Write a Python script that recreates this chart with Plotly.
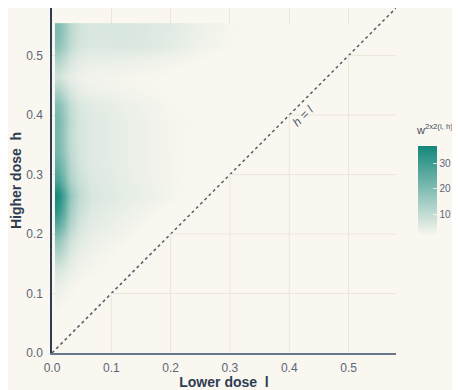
import plotly.graph_objects as go

# ---------------- data ----------------
lower_l = [0.0075, 0.0125, 0.02, 0.03, 0.045, 0.065, 0.09, 0.12, 0.16,
           0.20, 0.25, 0.30, 0.35, 0.40, 0.45, 0.50, 0.55]
higher_h = [0.013, 0.038, 0.063, 0.088, 0.113, 0.139, 0.164, 0.189, 0.214,
            0.239, 0.265, 0.290, 0.315, 0.340, 0.366, 0.391, 0.416, 0.441,
            0.466, 0.492, 0.517, 0.542]

w_rows = [
    [0.5, 0.4, 0.3, 0, 0, 0, 0, 0, 0, 0, 0, 0, 0, 0, 0, 0, 0],
    [1.0, 0.9, 0.7, 0.4, 0, 0, 0, 0, 0, 0, 0, 0, 0, 0, 0, 0, 0],
    [1.8, 1.7, 1.4, 1.0, 0.5, 0, 0, 0, 0, 0, 0, 0, 0, 0, 0, 0, 0],
    [2.8, 2.7, 2.3, 1.8, 1.2, 0.8, 0.3, 0, 0, 0, 0, 0, 0, 0, 0, 0, 0],
    [4.0, 3.8, 3.3, 2.5, 1.9, 1.5, 1.0, 0.3, 0, 0, 0, 0, 0, 0, 0, 0, 0],
    [7.0, 6.7, 5.6, 4.0, 2.9, 2.3, 1.8, 1.0, 0, 0, 0, 0, 0, 0, 0, 0, 0],
    [12, 11.4, 9.3, 6.0, 4.0, 3.0, 2.4, 1.5, 0.3, 0, 0, 0, 0, 0, 0, 0, 0],
    [18, 17, 13.5, 8.5, 5.5, 4.0, 3.2, 2.3, 1.0, 0, 0, 0, 0, 0, 0, 0, 0],
    [26, 24.5, 19.5, 12, 7.2, 5.0, 4.2, 3.2, 1.8, 0.5, 0, 0, 0, 0, 0, 0, 0],
    [33, 31, 25, 15, 9.0, 6.0, 5.0, 4.0, 2.7, 1.3, 0.3, 0, 0, 0, 0, 0, 0],
    [37, 35, 28, 17.5, 10.5, 7.0, 6.0, 5.0, 3.8, 2.5, 0.8, 0, 0, 0, 0, 0, 0],
    [29, 27.5, 22, 13.5, 9.0, 6.3, 5.6, 4.6, 3.4, 2.4, 1.2, 0, 0, 0, 0, 0, 0],
    [25, 23.5, 19, 12, 7.6, 5.8, 5.2, 4.3, 3.3, 2.4, 1.5, 0.4, 0, 0, 0, 0, 0],
    [22, 21, 16.8, 11, 7.2, 5.7, 5.2, 4.3, 3.3, 2.4, 1.6, 0.8, 0, 0, 0, 0, 0],
    [21.5, 20.5, 16.3, 10.5, 7.2, 5.7, 5.2, 4.3, 3.3, 2.4, 1.7, 0.9, 0, 0, 0, 0, 0],
    [22, 21, 16.8, 11, 7.2, 5.7, 5.2, 4.3, 3.3, 2.4, 1.8, 1.0, 0.3, 0, 0, 0, 0],
    [20, 19, 15.3, 10, 6.7, 5.3, 4.8, 3.9, 3.0, 2.1, 1.5, 0.8, 0.3, 0, 0, 0, 0],
    [14, 13.3, 10.5, 7.0, 4.6, 3.6, 3.3, 2.8, 2.2, 1.6, 1.1, 0.6, 0.2, 0, 0, 0, 0],
    [8.0, 7.6, 6.2, 4.5, 3.2, 2.7, 2.6, 2.4, 2.0, 1.5, 1.0, 0.5, 0.2, 0, 0, 0, 0],
    [13, 12.4, 10, 7.0, 5.0, 4.2, 4.1, 3.9, 3.4, 2.7, 1.7, 0.9, 0.4, 0, 0, 0, 0],
    [19, 18, 15, 10.5, 7.3, 6.3, 6.4, 6.6, 6.2, 5.0, 3.2, 2.0, 1.0, 0.3, 0, 0, 0],
    [21, 20, 16.5, 11.5, 7.8, 6.7, 6.8, 6.8, 6.3, 5.3, 3.5, 2.2, 1.1, 0.4, 0, 0, 0],
]

grid_ticks = [0.1, 0.2, 0.3, 0.4, 0.5]
axis_ticks = [0.0, 0.1, 0.2, 0.3, 0.4, 0.5]
cbar_ticks = [10, 20, 30]

# ---------------- style ----------------
BG = "#faf7f0"
GRID = "#ebe6dc"
NAVY = "#2e3d52"
TICK = "#5a6577"
TEAL = "#12877a"
AX_MAX = 0.58
FONT = "Liberation Sans"

# the page body has an 8px margin, so the figure is drawn 8px in from the corner
FIG_W, FIG_H = 452, 382
M_L, M_T = 44, 0
PLOT_W, PLOT_H = 344, 345
M_R = FIG_W - M_L - PLOT_W
M_B = FIG_H - M_T - PLOT_H

fig = go.Figure()

fig.add_trace(go.Heatmap(
    x=lower_l, y=higher_h, z=w_rows,
    zsmooth="best",
    zmin=1.6, zmax=37.2,
    colorscale=[[0, BG], [1, TEAL]],
    hoverinfo="skip",
    colorbar=dict(
        x=(418 - 52) / PLOT_W, xanchor="left", xpad=0,
        y=(345 - 182.5) / PLOT_H, yanchor="middle", ypad=0,
        len=90, lenmode="pixels",
        thickness=19, thicknessmode="pixels",
        outlinewidth=0,
        tickvals=cbar_ticks,
        ticks="inside", ticklen=4, tickcolor="rgba(255,255,255,0.75)",
        tickfont=dict(family=FONT, size=10, color=TICK),
        title=dict(text=""),
    ),
))

# mask the region below the diagonal (h < l)
fig.add_trace(go.Scatter(
    x=[0, AX_MAX, AX_MAX, 0], y=[0, 0, AX_MAX, 0],
    fill="toself", fillcolor=BG, mode="none",
    hoverinfo="skip", showlegend=False,
))

# diagonal h = l
fig.add_trace(go.Scatter(
    x=[0, AX_MAX], y=[0, AX_MAX], mode="lines",
    line=dict(color="#4d5b6d", width=1.5, dash="dot"),
    hoverinfo="skip", showlegend=False,
))

# grid segments in the masked region (visible below the diagonal)
shapes = []
for t in grid_ticks:
    shapes.append(dict(type="line", xref="x", yref="y", x0=t, x1=t, y0=0.002, y1=t,
                       line=dict(color=GRID, width=1), layer="above"))
    shapes.append(dict(type="line", xref="x", yref="y", x0=t, x1=AX_MAX, y0=t, y1=t,
                       line=dict(color=GRID, width=1), layer="above"))

fig.update_layout(
    width=FIG_W, height=FIG_H,
    margin=dict(l=M_L, r=M_R, t=M_T, b=M_B, autoexpand=False),
    paper_bgcolor=BG, plot_bgcolor=BG,
    showlegend=False,
    shapes=shapes,
    font=dict(family=FONT, color=TICK),
    annotations=[
        dict(text="<i>h = l</i>", x=0.423, y=0.399, xref="x", yref="y",
             showarrow=False, textangle=-45,
             font=dict(family=FONT, size=12, color="#4d5b6d")),
        dict(text="w<sup>2x2(l, h)</sup>", x=(415 - 52) / PLOT_W, y=(345 - 121) / PLOT_H,
             xref="paper", yref="paper", xanchor="left", yanchor="middle",
             borderpad=0, showarrow=False,
             font=dict(family=FONT, size=11, color="#3c4a5c")),
    ],
    xaxis=dict(
        range=[0, AX_MAX], tickvals=axis_ticks, tickformat=".1f",
        showgrid=True, gridcolor=GRID, gridwidth=1, zeroline=False,
        showline=True, linecolor="#66788a", linewidth=2,
        ticks="", ticklabelstandoff=3, automargin=False,
        tickfont=dict(family=FONT, size=12, color=TICK),
        title=dict(text="<b>Lower dose\u00a0\u00a0l</b>", standoff=3,
                   font=dict(family=FONT, size=14, color=NAVY)),
    ),
    yaxis=dict(
        range=[0, AX_MAX], tickvals=axis_ticks, tickformat=".1f",
        showgrid=True, gridcolor=GRID, gridwidth=1, zeroline=False,
        showline=True, linecolor=NAVY, linewidth=1.5,
        ticks="", ticklabelstandoff=5, automargin=False,
        tickfont=dict(family=FONT, size=12, color=TICK),
        title=dict(text="<b>Higher dose\u00a0\u00a0h</b>", standoff=4,
                   font=dict(family=FONT, size=14, color=NAVY)),
    ),
)

fig.write_html("out.html")
